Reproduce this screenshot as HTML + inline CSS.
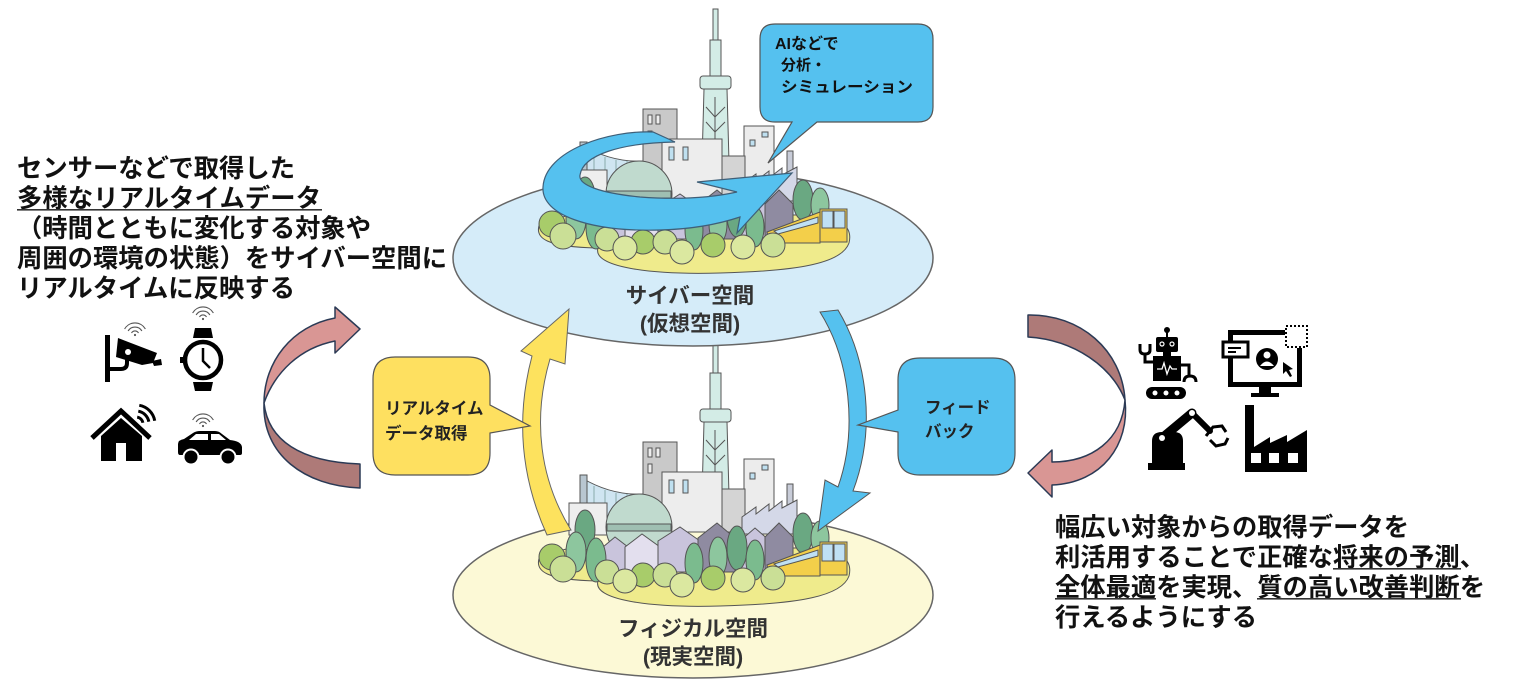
<!DOCTYPE html>
<html><head><meta charset="utf-8"><style>
html,body{margin:0;padding:0;background:#fff;}
svg{display:block;}
text{font-family:"Liberation Sans","Noto Sans CJK JP",sans-serif;font-weight:bold;}
</style></head><body>
<svg width="1513" height="685" viewBox="0 0 1513 685" xmlns="http://www.w3.org/2000/svg">
<defs>
<g id="wifi" fill="none" stroke="#555" stroke-width="1.1">
 <path d="M-3.5,-2 A4,4 0 0 1 3.5,-2"/>
 <path d="M-6.9,-4 A8,8 0 0 1 6.9,-4"/>
 <path d="M-10.4,-6 A12,12 0 0 1 10.4,-6"/>
 <circle cx="0" cy="0" r="1.1" fill="#555" stroke="none"/>
</g>
<g id="city" stroke="#555" stroke-width="1">
 <path d="M540,556 C533,572 548,580 598,581 C592,600 650,608 720,606 C800,604 842,596 849,576 C853,560 842,548 800,548 L570,548 Z" fill="#efeb8c"/>
 <path d="M582,478 Q612,496 645,494 L645,516 L582,516 Z" fill="#cfe5f1"/>
 <path d="M594,486 V516 M605,490 V516 M616,493 V516 M627,494 V516" stroke="#8aa" fill="none"/>
 <rect x="580" y="475" width="7" height="42" fill="#b8c6d0"/>
 <rect x="643" y="442" width="34" height="90" fill="#c9c9c9"/>
 <rect x="648" y="448" width="4" height="9" fill="#eee"/>
 <rect x="656" y="448" width="4" height="9" fill="#eee"/>
 <rect x="648" y="464" width="4" height="9" fill="#eee"/>
 <rect x="713" y="342" width="5" height="32" fill="#d3ece6"/>
 <rect x="710" y="373" width="11" height="37" fill="#d3ece6"/>
 <rect x="700" y="409" width="31" height="13" rx="3" fill="#d3ece6"/>
 <path d="M704,422 L727,422 L729,495 L702,495 Z" fill="#d3ece6"/>
 <path d="M715,430 V495 M706,440 L715,450 L725,440 M706,455 L715,465 L725,455" fill="none"/>
 <rect x="744" y="459" width="30" height="62" fill="#ececec"/>
 <rect x="750" y="473" width="5" height="6" fill="#bfe0f0"/>
 <rect x="762" y="465" width="6" height="5" fill="#bfe0f0"/>
 <rect x="662" y="472" width="60" height="60" fill="#ededed"/>
 <rect x="669" y="480" width="5" height="13" fill="#bfe0f0"/>
 <rect x="683" y="480" width="5" height="13" fill="#bfe0f0"/>
 <rect x="722" y="489" width="23" height="43" fill="#d4d4d4"/>
 <rect x="787" y="484" width="6" height="32" fill="#c8ccd8"/>
 <rect x="569" y="503" width="38" height="32" fill="#eeeeee"/>
 <path d="M742,517 L756,507 L756,514 L769,504 L769,511 L782,501 L782,508 L797,500 L797,534 L742,534 Z" fill="#d4d8e8"/>
 <circle cx="639" cy="527" r="33" fill="#c0dace"/>
 <path d="M607,524 H671 V531 H607 Z" fill="#9fbfb2"/>
 <path d="M603,547 L615,537 L628,547 V572 H603 Z" fill="#c9c4dc"/>
 <path d="M625,547 L642,534 L660,547 V572 H625 Z" fill="#e3dfee"/>
 <path d="M658,541 L680,527 L700,541 V572 H658 Z" fill="#c9c4dc"/>
 <path d="M698,538 L717,523 L735,538 V572 H698 Z" fill="#8f8ba1"/>
 <path d="M740,541 L755,528 L770,541 V572 H740 Z" fill="#c9c4dc"/>
 <path d="M765,537 L779,523 L793,537 V572 H765 Z" fill="#8f8ba1"/>
 <ellipse cx="585" cy="530" rx="10" ry="20" fill="#6aa882"/>
 <ellipse cx="576" cy="552" rx="10" ry="20" fill="#8dc69e"/>
 <ellipse cx="596" cy="560" rx="10" ry="22" fill="#7bbb8e"/>
 <ellipse cx="694" cy="563" rx="9" ry="20" fill="#7bbb8e"/>
 <ellipse cx="718" cy="557" rx="9" ry="20" fill="#8dc69e"/>
 <ellipse cx="737" cy="548" rx="10" ry="22" fill="#6aa882"/>
 <ellipse cx="755" cy="560" rx="9" ry="20" fill="#7bbb8e"/>
 <ellipse cx="803" cy="533" rx="10" ry="20" fill="#6aa882"/>
 <ellipse cx="820" cy="538" rx="9" ry="17" fill="#8dc69e"/>
 <path d="M767,565 L820,545 L820,576 L770,576 Z" fill="#f3cf4a"/>
 <path d="M774,564 L818,550 L818,556 L778,567 Z" fill="#bfe0f4"/>
 <rect x="820" y="542" width="27" height="33" fill="#f3cf4a"/>
 <rect x="822" y="544" width="11" height="17" fill="#bfe0f4"/>
 <rect x="834" y="544" width="11" height="17" fill="#bfe0f4"/>
 <circle cx="552" cy="557" r="13" fill="#a8cc6a"/>
 <circle cx="563" cy="569" r="13" fill="#cadf96"/>
 <circle cx="607" cy="572" r="12" fill="#cadf96"/>
 <circle cx="643" cy="575" r="12" fill="#a8cc6a"/>
 <circle cx="625" cy="581" r="12" fill="#dbe8a0"/>
 <circle cx="665" cy="575" r="12" fill="#cadf96"/>
 <circle cx="682" cy="585" r="12" fill="#dbe8a0"/>
 <circle cx="713" cy="578" r="12" fill="#a8cc6a"/>
 <circle cx="743" cy="580" r="12" fill="#dbe8a0"/>
 <circle cx="773" cy="578" r="12" fill="#cadf96"/>
</g>
</defs>

<!-- physical ellipse & city -->
<ellipse cx="693" cy="595" rx="240" ry="83" fill="#fcf9d6" stroke="#666" stroke-width="1.5"/>
<use href="#city"/>

<!-- cyber ellipse & city -->
<ellipse cx="693" cy="258" rx="240" ry="88" fill="#d5ecf9" stroke="#666" stroke-width="1.5"/>
<use href="#city" transform="translate(0,-333)"/>

<!-- circular blue arrow -->
<path d="M653,132 C610,130 545,150 543,187 C541,215 590,232 660,230 C700,229 725,222 740,217 L737,233 L792,173 L697,182 L737,192 C710,198 680,200 640,197 C600,193 578,185 580,175 C583,155 620,143 675,142 Z" fill="#55c1ef" stroke="#3f5f78" stroke-width="1.2"/>

<!-- AI bubble -->
<path d="M775,24 H918 Q933,24 933,39 V107 Q933,122 918,122 H817 L768,163 L792,122 H775 Q760,122 760,107 V39 Q760,24 775,24 Z" fill="#55c1ef" stroke="#555" stroke-width="1.2"/>
<text x="775" y="49" font-size="16" fill="#111">AIなどで</text>
<text x="781" y="70" font-size="15" fill="#111">分析・</text>
<text x="781" y="92" font-size="15.5" fill="#111" textLength="132" lengthAdjust="spacingAndGlyphs">シミュレーション</text>

<!-- ellipse labels -->
<text x="690" y="303" font-size="21.5" fill="#333" text-anchor="middle">サイバー空間</text>
<text x="690" y="331" font-size="21.5" fill="#333" text-anchor="middle">(仮想空間)</text>
<text x="693" y="636" font-size="21.5" fill="#333" text-anchor="middle">フィジカル空間</text>
<text x="693" y="664" font-size="21.5" fill="#333" text-anchor="middle">(現実空間)</text>

<!-- yellow arrow -->
<path d="M547,535 C522,480 515,420 532,356 L521,351 L569,309 L565,364 L550,359 C532,420 540,480 571,530 Z" fill="#fde25e" stroke="#666" stroke-width="1"/>
<!-- blue feedback arrow -->
<path d="M820,312 C850,360 858,430 838,487 L825,480 L818,531 L870,493 L853,491 C876,430 868,360 838,310 Z" fill="#55c1ef" stroke="#555" stroke-width="1"/>

<!-- yellow bubble -->
<path d="M395,357 H468 Q490,357 490,379 V405 L530,426 L490,433 V453 Q490,475 468,475 H395 Q373,475 373,453 V379 Q373,357 395,357 Z" fill="#fee060" stroke="#555" stroke-width="1.2"/>
<text x="385" y="414" font-size="16.5" fill="#222">リアルタイム</text>
<text x="385" y="439" font-size="16.5" fill="#222">データ取得</text>

<!-- blue bubble -->
<path d="M920,358 H993 Q1015,358 1015,380 V453 Q1015,475 993,475 H920 Q898,475 898,453 V432 L858,425 L898,410 V380 Q898,358 920,358 Z" fill="#55c1ef" stroke="#555" stroke-width="1.2"/>
<text x="925" y="413" font-size="16.5" fill="#222">フィード</text>
<text x="925" y="437" font-size="16.5" fill="#222">バック</text>

<!-- left pink arrow -->
<path d="M335,318 L335,307 L360,329 L335,353 L335,341 C300,348 275,372 264,403 C264,362 292,326 335,318 Z" fill="#d99694" stroke="#2b3a55" stroke-width="1.5" stroke-linejoin="round"/>
<path d="M264,403 C268,440 300,462 360,464 L360,488 C305,486 262,455 264,403 Z" fill="#ae7a78" stroke="#2b3a55" stroke-width="1.5" stroke-linejoin="round"/>

<!-- right pink arrow -->
<path d="M1028,315 C1080,314 1122,350 1125,400 C1112,367 1075,340 1028,337 Z" fill="#ae7a78" stroke="#2b3a55" stroke-width="1.5" stroke-linejoin="round"/>
<path d="M1125,400 C1122,440 1092,462 1052,462 L1052,450 L1028,473 L1052,497 L1052,485 C1102,483 1130,445 1125,400 Z" fill="#d99694" stroke="#2b3a55" stroke-width="1.5" stroke-linejoin="round"/>

<!-- left text -->
<g font-size="25.3" fill="#111">
<text x="17" y="177" textLength="278">センサーなどで取得した</text>
<text x="17" y="207" textLength="304">多様なリアルタイムデータ</text>
<text x="17" y="237" textLength="354">（時間とともに変化する対象や</text>
<text x="17" y="267" textLength="430">周囲の環境の状態）をサイバー空間に</text>
<text x="17" y="297" textLength="278">リアルタイムに反映する</text>
</g>
<rect x="17" y="209" width="305" height="1.6" fill="#333"/>

<!-- right text -->
<g font-size="25.3" fill="#111">
<text x="1055" y="536" textLength="354">幅広い対象からの取得データを</text>
<text x="1055" y="566" textLength="430">利活用することで正確な将来の予測、</text>
<text x="1055" y="596" textLength="430">全体最適を実現、質の高い改善判断を</text>
<text x="1055" y="626" textLength="202">行えるようにする</text>
</g>
<rect x="1333" y="568" width="128" height="1.6" fill="#333"/>
<rect x="1055" y="598" width="101" height="1.6" fill="#333"/>
<rect x="1257" y="598" width="204" height="1.6" fill="#333"/>

<!-- left icons -->
<use href="#wifi" x="135" y="335"/>
<use href="#wifi" x="203" y="319"/>
<use href="#wifi" x="203" y="426"/>
<!-- camera -->
<rect x="105" y="335" width="5" height="47" fill="#000"/>
<path d="M110,369 H121 Q127,369 127,363 V358" fill="none" stroke="#000" stroke-width="4"/>
<path d="M118,338 L157,353 L153,363 L142,365 L116,357 Z" fill="#000"/>
<path d="M152,361 L161,359 L162,365 L154,366 Z" fill="#000"/>
<circle cx="128" cy="352" r="3" fill="#fff"/>
<!-- watch -->
<path d="M193,338 L195,328 H211 L213,338 Z" fill="#000"/>
<path d="M193,382 L195,391 H211 L213,382 Z" fill="#000"/>
<circle cx="203" cy="360" r="18" fill="#fff" stroke="#000" stroke-width="4.5"/>
<rect x="180" y="357" width="4" height="6" fill="#000"/>
<path d="M203,348 V361 L210,368" fill="none" stroke="#000" stroke-width="2.5"/>
<!-- house -->
<path d="M92,438 L121,411 L150,438" fill="none" stroke="#000" stroke-width="5"/>
<path d="M101,436 L121,418 L142,436 V461 H101 Z" fill="#000"/>
<rect x="116" y="443" width="10" height="18" fill="#fff"/>
<g fill="none" stroke="#000" stroke-width="3">
<path d="M137.2,417.1 A7,7 0 0 1 142.9,422.8"/>
<path d="M138.3,411.2 A13,13 0 0 1 148.8,421.7"/>
<path d="M139.3,405.3 A19,19 0 0 1 154.7,420.7"/>
</g>
<!-- car -->
<path d="M178,452 V444 Q178,440 184,439 L193,433 Q196,431 200,431 H215 Q219,431 222,434 L230,440 Q241,441 242,447 V453 Q242,455 240,455 H180 Q178,455 178,452 Z" fill="#000"/>
<path d="M196,434 H208 V440 H189 Z" fill="#fff"/>
<path d="M211,434 H219 L226,440 H211 Z" fill="#fff"/>
<circle cx="191" cy="457" r="8.5" fill="#fff"/>
<circle cx="191" cy="457" r="6.5" fill="#000"/>
<circle cx="228" cy="457" r="8.5" fill="#fff"/>
<circle cx="228" cy="457" r="6.5" fill="#000"/>

<!-- right icons -->
<!-- robot -->
<circle cx="1167" cy="330" r="3" fill="#000"/>
<rect x="1166" y="332" width="2" height="6" fill="#000"/>
<rect x="1156" y="337" width="22" height="15" rx="2" fill="#000"/>
<circle cx="1162" cy="344" r="2" fill="none" stroke="#fff" stroke-width="1.2"/>
<circle cx="1172" cy="344" r="2" fill="none" stroke="#fff" stroke-width="1.2"/>
<rect x="1163" y="351" width="8" height="6" fill="#000"/>
<rect x="1153" y="356" width="28" height="25" fill="#000"/>
<polyline points="1157,369 1162,369 1164,363 1167,374 1170,366 1172,369 1177,369" fill="none" stroke="#fff" stroke-width="1.3"/>
<path d="M1153,362 H1145 V353" fill="none" stroke="#000" stroke-width="3"/>
<path d="M1140,344 V350 Q1140,354 1145,354 Q1150,354 1150,350 V344" fill="none" stroke="#000" stroke-width="3"/>
<path d="M1181,365 H1189 V375" fill="none" stroke="#000" stroke-width="3"/>
<path d="M1184,382 Q1184,376 1190,376 Q1196,376 1196,382" fill="none" stroke="#000" stroke-width="3"/>
<rect x="1146" y="387" width="40" height="12" rx="6" fill="#000"/>
<circle cx="1155" cy="393" r="2.5" fill="#fff"/>
<circle cx="1166" cy="393" r="2.5" fill="#fff"/>
<circle cx="1177" cy="393" r="2.5" fill="#fff"/>
<!-- monitor -->
<rect x="1230.5" y="332.5" width="69" height="52" fill="#fff" stroke="#000" stroke-width="5"/>
<rect x="1259" y="386" width="12" height="8" fill="#000"/>
<rect x="1251" y="393" width="28" height="4" fill="#000"/>
<rect x="1223" y="342" width="25" height="15" fill="#fff" stroke="#000" stroke-width="3"/>
<path d="M1228,348 H1241 M1228,352 H1236" stroke="#000" stroke-width="2"/>
<rect x="1285" y="325" width="23" height="23" fill="#fff"/>
<rect x="1286" y="326" width="21" height="21" fill="none" stroke="#000" stroke-width="2" stroke-dasharray="2,2"/>
<circle cx="1267" cy="359" r="11" fill="#000"/>
<circle cx="1267" cy="355" r="3.5" fill="#fff"/>
<path d="M1260,366 Q1267,357 1274,366 Z" fill="#fff"/>
<path d="M1283,362 L1283,374 L1286,371 L1290,377 L1292,376 L1289,370 L1293,369 Z" fill="#000"/>
<!-- robot arm -->
<path d="M1152,464 V441 Q1152,432 1162,432 H1174 Q1183,432 1183,441 V464 Z" fill="#000"/>
<rect x="1148" y="463" width="37" height="7" fill="#000"/>
<path d="M1162,438 L1192,413" stroke="#000" stroke-width="9" stroke-linecap="round"/>
<path d="M1192,413 L1210,431" stroke="#000" stroke-width="6" stroke-linecap="round"/>
<circle cx="1162" cy="438" r="3" fill="#fff"/>
<circle cx="1192" cy="413" r="3" fill="#fff"/>
<path d="M1206,436 L1213,427 L1222,426 L1226,432" fill="none" stroke="#000" stroke-width="3"/>
<path d="M1210,440 L1216,446 L1225,444 L1228,438" fill="none" stroke="#000" stroke-width="3"/>
<!-- factory -->
<path d="M1245,405 H1254 V447 L1270,437 V443 L1287,435 V442 L1307,430 V472 H1245 Z" fill="#000"/>
<rect x="1251" y="453" width="10" height="10" fill="#fff"/>
<rect x="1269" y="453" width="10" height="10" fill="#fff"/>
<rect x="1288" y="453" width="10" height="10" fill="#fff"/>
</svg>
</body></html>
